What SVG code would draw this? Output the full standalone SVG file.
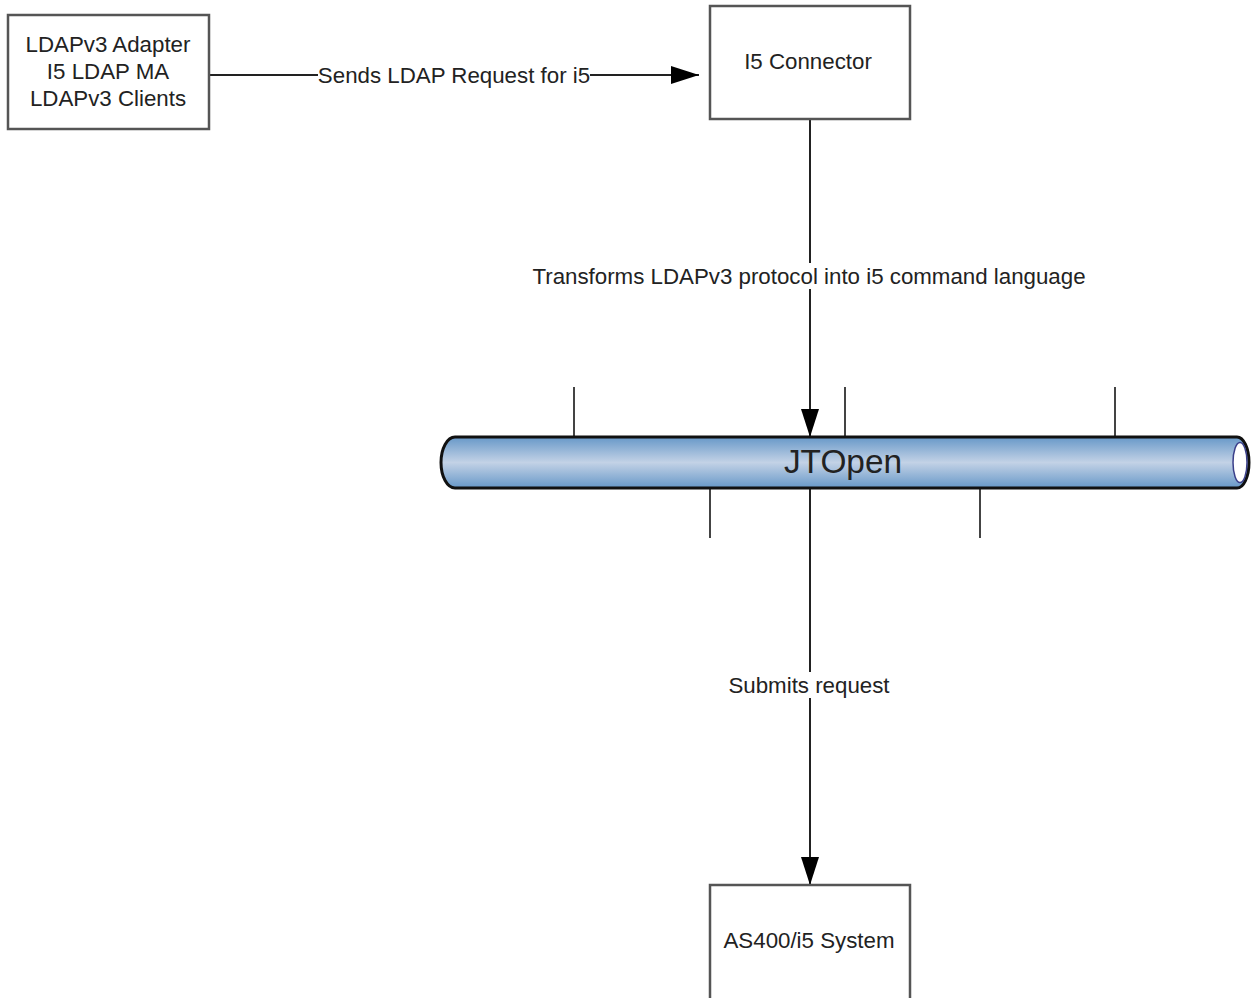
<svg xmlns="http://www.w3.org/2000/svg" width="1253" height="998" viewBox="0 0 1253 998">
<style>
.box{fill:#fff;stroke:#555;stroke-width:2.5}
.t{font-family:"Liberation Sans",Arial,sans-serif;font-size:22.3px;fill:#222;text-anchor:middle;dominant-baseline:central}
.lbl{fill:#fff}
.c{stroke:#222;stroke-width:2;fill:none}
.tick{stroke:#444;stroke-width:2}
</style>
<defs>
<marker id="ah" markerWidth="30" markerHeight="20" refX="28" refY="10" orient="auto" markerUnits="userSpaceOnUse">
<path d="M0,1 L28,10 L0,19 Z" fill="#000"/>
</marker>
<linearGradient id="pg" x1="0" y1="0" x2="0" y2="1">
<stop offset="0" stop-color="#6798c8"/>
<stop offset="0.5" stop-color="#c3d2e6"/>
<stop offset="1" stop-color="#6798c8"/>
</linearGradient>
</defs>
<g id="connectors">
<line class="c" x1="209" y1="75" x2="699" y2="75" marker-end="url(#ah)"/>
<rect class="lbl" x="318" y="62" width="272" height="26"/>
<text class="t" x="454" y="75">Sends LDAP Request for i5</text>
<line class="c" x1="810" y1="119" x2="810" y2="437" marker-end="url(#ah)"/>
<rect class="lbl" x="532" y="263" width="554" height="26"/>
<text class="t" x="809" y="276">Transforms LDAPv3 protocol into i5 command language</text>
<line class="c" x1="810" y1="488" x2="810" y2="885" marker-end="url(#ah)"/>
<rect class="lbl" x="728" y="672" width="163" height="26"/>
<text class="t" x="809" y="685">Submits request</text>
</g>
<g id="ldap-clients">
<rect class="box" x="8" y="15" width="201" height="114"/>
<text class="t" x="108" y="44">LDAPv3 Adapter</text>
<text class="t" x="108" y="71">I5 LDAP MA</text>
<text class="t" x="108" y="98">LDAPv3 Clients</text>
</g>
<g id="i5-connector">
<rect class="box" x="710" y="6" width="200" height="113"/>
<text class="t" x="808" y="61">I5 Connector</text>
</g>
<g id="as400">
<rect class="box" x="710" y="885" width="200" height="120"/>
<text class="t" x="809" y="940">AS400/i5 System</text>
</g>
<g id="jtopen">
<line class="tick" x1="574" y1="387" x2="574" y2="437"/>
<line class="tick" x1="845" y1="387" x2="845" y2="437"/>
<line class="tick" x1="1115" y1="387" x2="1115" y2="437"/>
<line class="tick" x1="710" y1="488" x2="710" y2="538"/>
<line class="tick" x1="980" y1="488" x2="980" y2="538"/>
<path d="M455,437 L1237,437 A12,25.5 0 0 1 1237,488 L455,488 A14,25.5 0 0 1 455,437 Z" fill="url(#pg)" stroke="#111" stroke-width="3"/>
<ellipse cx="1240" cy="462.5" rx="7" ry="20" fill="#fff" stroke="#3a3f8a" stroke-width="1.5"/>
<text class="t" x="843" y="461" style="font-size:33.4px">JTOpen</text>
</g>
</svg>
